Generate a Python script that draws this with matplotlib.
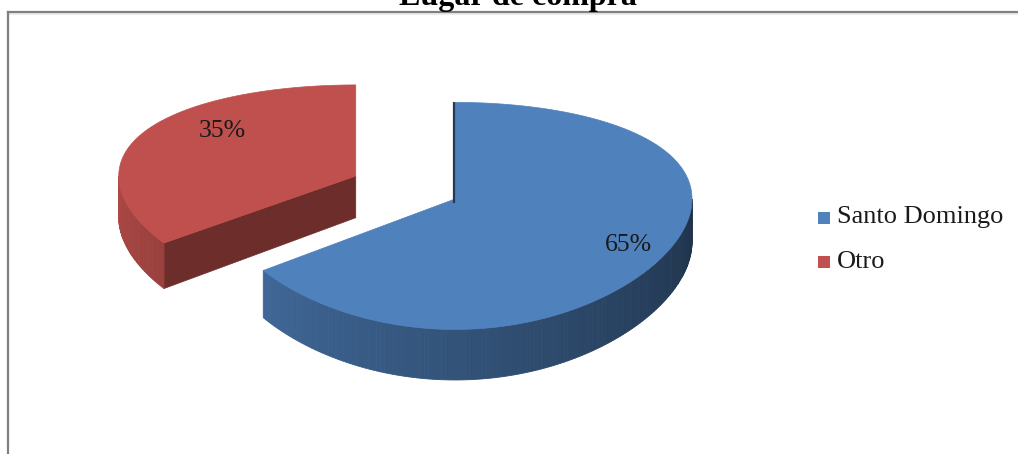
import numpy as np
import matplotlib.pyplot as plt
from matplotlib.patches import Polygon, Rectangle
from matplotlib.colors import to_rgb

# data
labels = ['Santo Domingo', 'Otro']
values = [65, 35]
colors = ['#4F81BD', '#C0504D']
explode = [0.0, 0.47]

# 3d pie geometry in pixels
cx, cy = 455, 199
rx, ry = 237, 111
persp = 0.149
depth = 43

SERIF = 'Liberation Serif'


def project(wx, wv, z=0.0):
    # wv: -1 far, +1 near ; z: 0 top face, 1 bottom face
    s = 1.0 / (1.0 - persp * wv)
    return cx + rx * wx, cy + (ry * wv + depth * z) * s


def shade(color, f):
    r, g, b = to_rgb(color)
    return (r * f, g * f, b * f)


def arc(ox, ov, t0, t1, z, n=80):
    th = np.radians(np.linspace(t0, t1, n))
    return [project(ox + np.sin(t), ov - np.cos(t), z) for t in th]


fig = plt.figure(figsize=(10.18, 4.54), dpi=100)
ax = fig.add_axes([0, 0, 1, 1])
ax.set_xlim(0, 1018)
ax.set_ylim(454, 0)
ax.axis('off')

# slice angles, clockwise from 12 o'clock
total = float(sum(values))
slices = []
start = 0.0
for v, c, e in zip(values, colors, explode):
    t0, t1 = start, start + 360.0 * v / total
    mid = np.radians((t0 + t1) / 2)
    ox, ov = e * np.sin(mid), -e * np.cos(mid)
    slices.append((t0, t1, ox, ov, c))
    start = t1

# far slices first
order = sorted(range(len(slices)), key=lambda i: slices[i][3])
for i in order:
    t0, t1, ox, ov, c = slices[i]

    # radial cut faces
    for t, nrm in ((t0, t0 - 90), (t1, t1 + 90)):
        if -np.cos(np.radians(nrm)) > 0.05:
            a = np.radians(t)
            p = [project(ox, ov, 0), project(ox + np.sin(a), ov - np.cos(a), 0),
                 project(ox + np.sin(a), ov - np.cos(a), 1), project(ox, ov, 1)]
            ax.add_patch(Polygon(p, closed=True, fc=shade(c, 0.56),
                                 ec=shade(c, 0.56), lw=0.5))

    # outer curved side (front half only), darker towards the right
    lo, hi = max(t0, 90.0), min(t1, 270.0)
    if hi > lo:
        steps = np.linspace(lo, hi, int(hi - lo) + 2)
        for a, b in zip(steps[:-1], steps[1:]):
            f = 0.38 + (0.5 * (a + b) - 90.0) / 180.0 * 0.52
            top = arc(ox, ov, a, b, 0, 3)
            bot = arc(ox, ov, b, a, 1, 3)
            ax.add_patch(Polygon(top + bot, closed=True, fc=shade(c, f),
                                 ec=shade(c, f), lw=0.6))

    # top face
    pts = [project(ox, ov, 0)] + arc(ox, ov, t0, t1, 0, 240)
    ax.add_patch(Polygon(pts, closed=True, fc=c, ec=c, lw=0.5))

    # thin edge along the 12 o'clock cut
    if t0 == 0.0:
        x0, y0 = project(ox, ov, 0)
        x1, y1 = project(ox, ov - 1, 0)
        ax.plot([x0 - 1, x1 - 1], [y0 + 4, y1], color=shade(c, 0.45), lw=1.6,
                solid_capstyle='butt')

# value labels
label_pos = [(628, 245), (222, 131)]
for (x, y), v in zip(label_pos, values):
    ax.text(x, y, f'{v}%', ha='center', va='center', fontsize=18.5,
            family=SERIF, color='#1a1a1a')

# legend
legend_y = [218, 262]
for y, lab, c in zip(legend_y, labels, colors):
    ax.add_patch(Rectangle((818, y - 6), 12, 12, fc=c, ec='none'))
    ax.text(837, y + 5.5, lab, ha='left', va='baseline', fontsize=19,
            family=SERIF, color='#1a1a1a')

# title, partly above the frame
ax.text(518, 5, 'Lugar de compra', ha='center', va='baseline', fontsize=23,
        fontweight='bold', family=SERIF, color='black')

# chart frame
ax.plot([8, 1018], [13.5, 13.5], color='#ececec', lw=1.5)
ax.plot([8, 1018], [12, 12], color='#808080', lw=1.6)
ax.plot([8, 8], [12, 454], color='#808080', lw=1.6)

fig.savefig('out.png', dpi=100)
